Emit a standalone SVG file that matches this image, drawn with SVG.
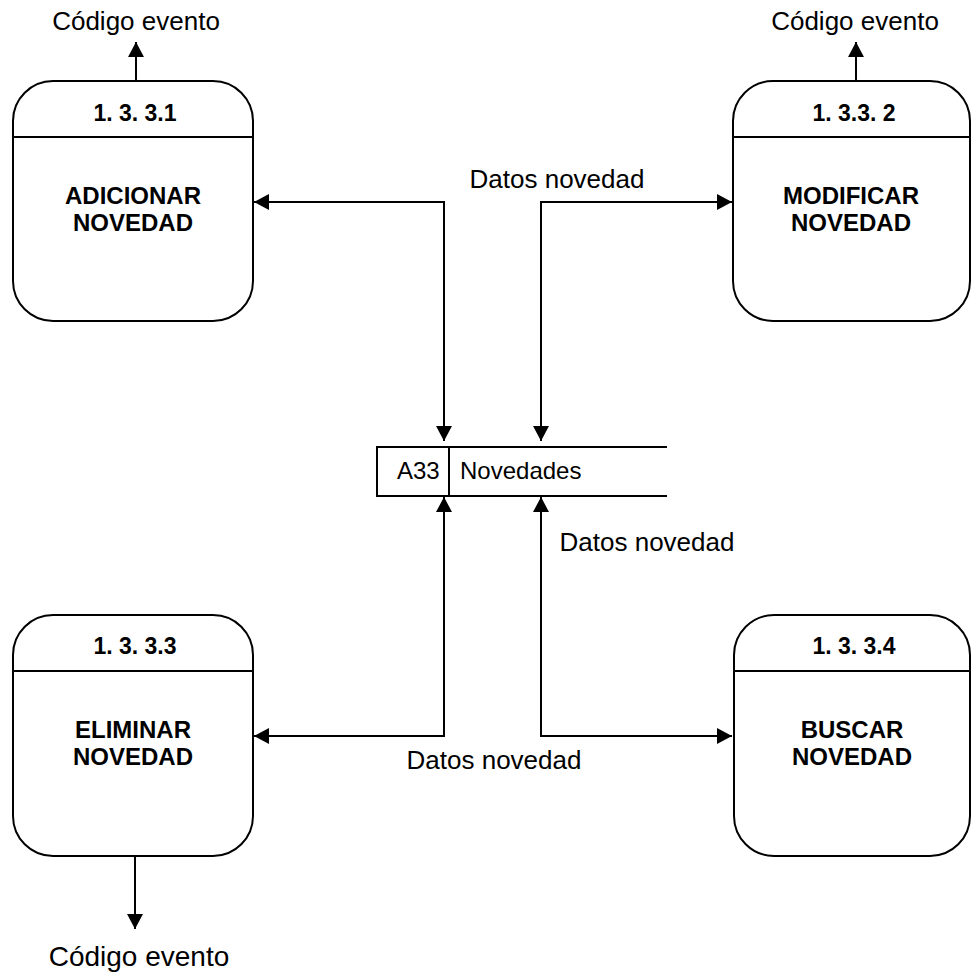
<svg xmlns="http://www.w3.org/2000/svg" width="971" height="974" viewBox="0 0 971 974">
<style>
.box{fill:#fff;stroke:#000;stroke-width:2}
.ln{fill:none;stroke:#000;stroke-width:2}
.hd{font-family:"Liberation Sans",Arial,sans-serif;font-weight:bold;font-size:23px;text-anchor:middle;fill:#000}
.bd{font-family:"Liberation Sans",Arial,sans-serif;font-weight:bold;font-size:24px;text-anchor:middle;fill:#000}
.lb{font-family:"Liberation Sans",Arial,sans-serif;font-size:26px;text-anchor:middle;fill:#000}
.st{font-family:"Liberation Sans",Arial,sans-serif;font-size:24px;fill:#000}
</style>
<defs>
<marker id="ah" markerUnits="userSpaceOnUse" markerWidth="16" markerHeight="18" refX="15" refY="8" orient="auto-start-reverse">
<path d="M0,0 L15,8 L0,16 Z" fill="#000"/>
</marker>
</defs>
<g id="connectors">
<path class="ln" d="M136,81 V42" marker-end="url(#ah)"/>
<path class="ln" d="M856,81 V42" marker-end="url(#ah)"/>
<path class="ln" d="M135,856 V929" marker-end="url(#ah)"/>
<path class="ln" d="M254,202 H444 V441" marker-start="url(#ah)" marker-end="url(#ah)"/>
<path class="ln" d="M541,441 V202 H732" marker-start="url(#ah)" marker-end="url(#ah)"/>
<path class="ln" d="M444,497 V736 H254" marker-start="url(#ah)" marker-end="url(#ah)"/>
<path class="ln" d="M541,497 V736 H732" marker-start="url(#ah)" marker-end="url(#ah)"/>
<text class="lb" x="136" y="30">Código evento</text>
<text class="lb" x="855" y="30">Código evento</text>
<text class="lb" x="139" y="966" style="font-size:28px">Código evento</text>
<text class="lb" x="557" y="188">Datos novedad</text>
<text class="lb" x="647" y="551">Datos novedad</text>
<text class="lb" x="494" y="769">Datos novedad</text>
</g>
<g id="p1">
<rect class="box" x="13" y="81" width="240" height="240" rx="40" ry="40"/>
<line class="ln" x1="13" y1="137" x2="253" y2="137"/>
<text class="hd" x="135" y="121">1. 3. 3.1</text>
<text class="bd" x="133" y="204">ADICIONAR</text>
<text class="bd" x="133" y="231">NOVEDAD</text>
</g>
<g id="p2">
<rect class="box" x="733" y="81" width="237" height="240" rx="40" ry="40"/>
<line class="ln" x1="733" y1="137" x2="970" y2="137"/>
<text class="hd" x="854" y="121">1. 3.3. 2</text>
<text class="bd" x="851" y="204">MODIFICAR</text>
<text class="bd" x="851" y="231">NOVEDAD</text>
</g>
<g id="p3">
<rect class="box" x="13" y="615" width="240" height="241" rx="40" ry="40"/>
<line class="ln" x1="13" y1="671" x2="253" y2="671"/>
<text class="hd" x="135" y="654">1. 3. 3.3</text>
<text class="bd" x="133" y="738">ELIMINAR</text>
<text class="bd" x="133" y="765">NOVEDAD</text>
</g>
<g id="p4">
<rect class="box" x="734" y="615" width="236" height="241" rx="40" ry="40"/>
<line class="ln" x1="734" y1="671" x2="970" y2="671"/>
<text class="hd" x="854" y="654">1. 3. 3.4</text>
<text class="bd" x="852" y="738">BUSCAR</text>
<text class="bd" x="852" y="765">NOVEDAD</text>
</g>
<g id="store">
<path class="ln" d="M667,447 H377 V496 H667 M449,447 V496"/>
<text class="st" x="397" y="479">A33</text>
<text class="st" x="460" y="479">Novedades</text>
</g>
</svg>
